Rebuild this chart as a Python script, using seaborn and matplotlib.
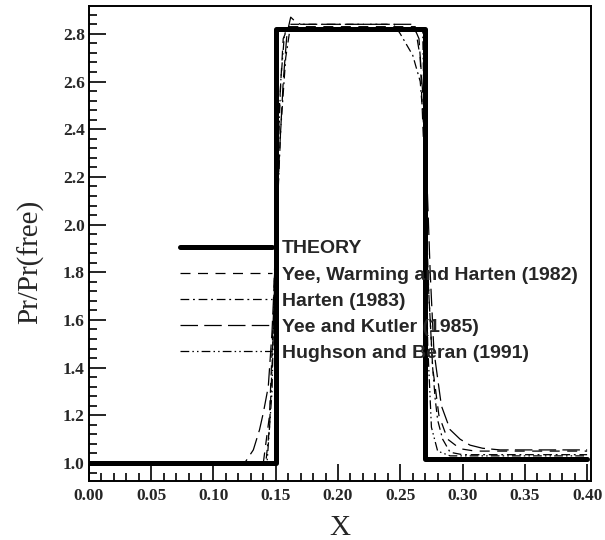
import numpy as np
import pandas as pd
import matplotlib
matplotlib.use("Agg")
import matplotlib.pyplot as plt
import seaborn as sns
from matplotlib.ticker import MultipleLocator, FormatStrFormatter

sns.set_style("ticks")

# ---- data ----
theory_x = [0.0, 0.15, 0.15, 0.27, 0.27, 0.40]
theory_y = [1.0, 1.0, 2.82, 2.82, 1.015, 1.015]

ywh_x = [0.0, 0.140, 0.145, 0.148, 0.150, 0.153, 0.156, 0.160, 0.262, 0.266, 0.269, 0.272, 0.276, 0.281, 0.288, 0.298, 0.310, 0.400]
ywh_y = [1.0, 1.0, 1.2, 1.6, 2.0, 2.5, 2.78, 2.83, 2.83, 2.7, 2.3, 1.8, 1.4, 1.2, 1.1, 1.06, 1.05, 1.05]

har_x = [0.0, 0.142, 0.145, 0.147, 0.150, 0.154, 0.158, 0.162, 0.245, 0.250, 0.260, 0.266, 0.269, 0.271, 0.273, 0.276, 0.278, 0.280, 0.284, 0.290, 0.300, 0.400]
har_y = [1.0, 1.0, 1.15, 1.4, 1.9, 2.4, 2.7, 2.84, 2.84, 2.80, 2.71, 2.6, 2.4, 2.0, 1.7, 1.4, 1.27, 1.18, 1.1, 1.045, 1.035, 1.035]

yk_x = [0.0, 0.125, 0.132, 0.137, 0.140, 0.144, 0.147, 0.150, 0.153, 0.156, 0.159, 0.162, 0.166, 0.170, 0.260, 0.265, 0.270, 0.274, 0.277, 0.283, 0.290, 0.298, 0.306, 0.316, 0.330, 0.400]
yk_y = [1.0, 1.0, 1.055, 1.14, 1.21, 1.32, 1.55, 1.9, 2.3, 2.6, 2.8, 2.87, 2.85, 2.84, 2.84, 2.78, 2.4, 1.8, 1.47, 1.24, 1.14, 1.1, 1.075, 1.062, 1.055, 1.055]

hb_x = [0.0, 0.143, 0.147, 0.150, 0.154, 0.157, 0.160, 0.268, 0.270, 0.272, 0.275, 0.280, 0.290, 0.400]
hb_y = [1.0, 1.0, 1.3, 2.0, 2.6, 2.8, 2.82, 2.82, 2.2, 1.5, 1.15, 1.05, 1.03, 1.03]

labels = ["THEORY", "Yee, Warming and Harten (1982)", "Harten (1983)",
          "Yee and Kutler (1985)", "Hughson and Beran (1991)"]

fig = plt.figure(figsize=(6.05, 5.4), dpi=100)
ax = fig.add_axes([0.147, 0.109, 0.830, 0.880])

series = [
    (theory_x, theory_y, dict(linewidth=3.6, linestyle="-")),
    (ywh_x, ywh_y, dict(linewidth=0.9, linestyle=(0, (8, 6)))),
    (har_x, har_y, dict(linewidth=0.9, linestyle=(0, (7, 3, 1.5, 3)))),
    (yk_x, yk_y, dict(linewidth=0.9, linestyle=(0, (14, 5)))),
    (hb_x, hb_y, dict(linewidth=0.9, linestyle=(0, (7, 2.5, 1.2, 2.5, 1.2, 2.5)))),
]
for (xs, ys, st), lab in zip(series, labels):
    df = pd.DataFrame({"x": xs, "y": ys})
    sns.lineplot(data=df, x="x", y="y", ax=ax, color="black", sort=False,
                 estimator=None, label=lab, **st)

ax.set_xlim(0.0, 0.4032)
ax.set_ylim(0.924, 2.917)

ax.xaxis.set_major_locator(MultipleLocator(0.05))
ax.xaxis.set_minor_locator(MultipleLocator(0.01))
ax.yaxis.set_major_locator(MultipleLocator(0.2))
ax.yaxis.set_minor_locator(MultipleLocator(0.04))
ax.xaxis.set_major_formatter(FormatStrFormatter("%.2f"))
ax.yaxis.set_major_formatter(FormatStrFormatter("%.1f"))
ax.tick_params(which="both", direction="in", top=False, right=False, width=1.2, color="black")
ax.tick_params(which="major", length=12)
ax.tick_params(which="minor", length=6)
for lab in ax.get_xticklabels() + ax.get_yticklabels():
    lab.set_family("Liberation Serif")
    lab.set_fontweight("bold")
    lab.set_fontsize(12.5)
ax.tick_params(axis="x", pad=5)
ax.tick_params(axis="y", pad=3)

for sp in ax.spines.values():
    sp.set_visible(True)
    sp.set_linewidth(1.4)
    sp.set_color("black")

ax.set_xlabel("X", family="Liberation Serif", fontsize=21, labelpad=8)
ax.set_ylabel("Pr/Pr(free)", family="Liberation Serif", fontsize=21)
ax.yaxis.set_label_coords(-0.090, 0.461)

leg = ax.legend(loc="upper left", bbox_to_anchor=(0.181, 0.508), frameon=False,
                handlelength=4.75, handletextpad=0.5, labelspacing=0.44,
                borderpad=0, borderaxespad=0,
                prop={"family": "Liberation Sans", "weight": "bold", "size": 14})

fig.savefig("out.png", dpi=100)
